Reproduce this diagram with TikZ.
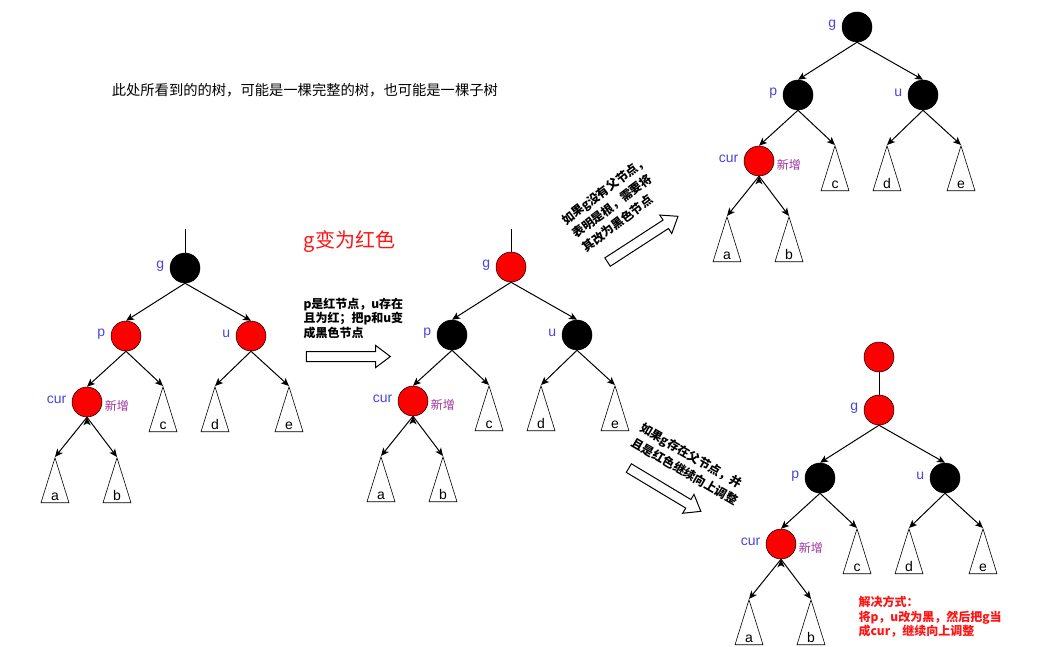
\documentclass[tikz,border=0pt]{standalone}
\usepackage{fontspec}
\setmainfont{Liberation Sans}
\newfontfamily\cjk{Noto Sans CJK SC}
\usetikzlibrary{arrows.meta,shapes.geometric,shapes.arrows}

\definecolor{lblblue}{RGB}{70,70,220}
\definecolor{newpurple}{RGB}{160,50,160}
\definecolor{notered}{RGB}{255,20,20}

\tikzset{
  rbnode/.style={circle,draw=black,line width=0.5pt,minimum size=30pt,inner sep=0pt},
  lbl/.style={text=lblblue,font=\fontsize{14}{14}\selectfont,inner sep=2pt,xshift=-3pt,yshift=2pt},
  newlbl/.style={text=newpurple,font=\cjk\fontsize{12}{12}\selectfont,inner sep=2pt,yshift=-4pt},
  subtree/.style={draw,line width=0.6pt,isosceles triangle,shape border rotate=90,
    isosceles triangle stretches,minimum width=28pt,minimum height=45pt,inner sep=0pt,anchor=apex},
  leaf/.style={anchor=south,inner sep=2pt,font=\fontsize{14}{14}\selectfont},
  bigarrow/.style={single arrow,draw=black,line width=1pt,fill=white,inner sep=4.5pt,
    single arrow head extend=6pt,single arrow tip angle=74,minimum height=84pt},
  note/.style={font=\cjk\bfseries\fontsize{12}{14.5}\selectfont,align=left,inner sep=0pt},
  slantnote/.style={note,font=\cjk\bfseries\fontsize{12}{17}\selectfont}
}

% one red-black subtree: prefix, x, y, colour of g, colour of p and u
\newcommand{\rbtree}[5]{%
  \begin{scope}[shift={(#2,#3)}]
    \node[rbnode,fill=#4,label={[lbl]left:g}] (#1g) at (0,0) {};
    \node[rbnode,fill=#5,label={[lbl]left:p}] (#1p) at (-59,68) {};
    \node[rbnode,fill=#5,label={[lbl]left:u}] (#1u) at (66,68) {};
    \node[rbnode,fill=red,label={[lbl]left:cur},label={[newlbl]right:新增}] (#1cur) at (-98,134) {};
    \node[subtree,label={[leaf]south:c}] (#1c) at (-22,118) {};
    \node[subtree,label={[leaf]south:d}] (#1d) at (30,118) {};
    \node[subtree,label={[leaf]south:e}] (#1e) at (104,118) {};
    \node[subtree,label={[leaf]south:a}] (#1a) at (-130,189) {};
    \node[subtree,label={[leaf]south:b}] (#1b) at (-68,189) {};
  \end{scope}
  \draw[->]
  (#1g.south) edge (#1p.north)
  (#1g.south) edge (#1u.north)
  (#1p.south) edge (#1cur.north)
  (#1p.south) edge (#1c.apex)
  (#1u.south) edge (#1d.apex)
  (#1u.south) edge (#1e.apex)
  (#1cur.south) edge (#1a.apex)
  (#1cur.south) edge (#1b.apex);
}

\begin{document}
\begin{tikzpicture}[x=1pt,y=-1pt,line width=1pt,>={Stealth[length=8pt,width=7pt,inset=2pt]}]
  \useasboundingbox (0,0) rectangle (1043,647);

  \node[font=\cjk\fontsize{14.3}{14.3}\selectfont,anchor=west] (title) at (108,90)
    {此处所看到的的树，可能是一棵完整的树，也可能是一棵子树};

  % before
  \rbtree{t1}{185}{268}{black}{red}
  \coordinate (t1top) at (185,229);
  \draw (t1top) -- (t1g.north);

  \node[font=\cjk\fontsize{20}{20}\selectfont,text=notered,anchor=west] (gred) at (300,242) {g变为红色};
  \node[note,anchor=west] (note1) at (303,318) {p是红节点，u存在\\且为红；把p和u变\\成黑色节点};
  \node[bigarrow] (arr1) at (345,356.5) {};

  % after recolouring
  \rbtree{t2}{511}{267}{red}{black}
  \coordinate (t2top) at (511,229);
  \draw (t2top) -- (t2g.north);

  % g is the root
  \node[slantnote,rotate=37] (note2) at (615,204) {如果g没有父节点，\\表明是根，需要将\\其改为黑色节点};
  \node[bigarrow,rotate=33] (arr2) at (640,241) {};
  \rbtree{t3}{857}{27}{black}{black}

  % g has a parent
  \node[slantnote,rotate=-30] (note3) at (689,464) {如果g存在父节点，并\\且是红色继续向上调整};
  \node[bigarrow,rotate=-31] (arr3) at (662,488) {};
  \rbtree{t4}{879}{410}{red}{black}
  \node[rbnode,fill=red] (t4top) at (879,357) {};
  \draw (t4top.south) -- (t4g.north);

  \node[note,text=notered,anchor=west] (note4) at (858,617) {解决方式：\\将p，u改为黑，然后把g当\\成cur，继续向上调整};
\end{tikzpicture}
\end{document}
